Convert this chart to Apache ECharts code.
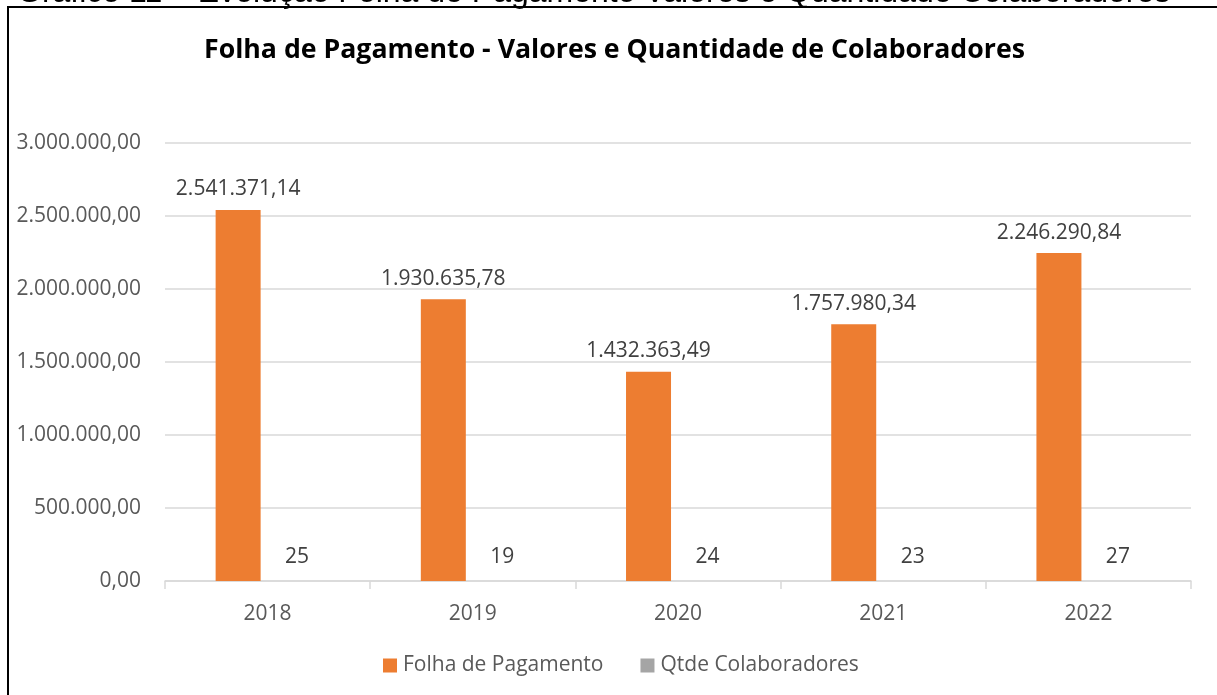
<!DOCTYPE html>
<html>
<head>
<meta charset="utf-8">
<script src="https://cdn.jsdelivr.net/npm/echarts@6/dist/echarts.min.js"></script>
<style>
html,body{margin:0;padding:0;background:#fff;}
#c{width:1217px;height:695px;}
</style>
</head>
<body>
<div id="c"></div>
<script>
var categories = ['2018', '2019', '2020', '2021', '2022'];
var folhaPagamento = [2541371.14, 1930635.78, 1432363.49, 1757980.34, 2246290.84];
var qtdeColaboradores = [25, 19, 24, 23, 27];
var seriesNames = ['Folha de Pagamento', 'Qtde Colaboradores'];
var chartTitle = 'Folha de Pagamento - Valores e Quantidade de Colaboradores';
var captionText = 'Gráfico 11 – Evolução Folha de Pagamento Valores e Quantidade Colaboradores';

function fmtBR(v) {
  var neg = v < 0;
  v = Math.abs(v);
  var parts = v.toFixed(2).split('.');
  var intPart = parts[0].replace(/\B(?=(\d{3})+(?!\d))/g, '.');
  return (neg ? '-' : '') + intPart + ',' + parts[1];
}

var FONT = '"Open Sans"';
var FS = 21;
var chart = echarts.init(document.getElementById('c'));
chart.setOption({
  animation: false,
  backgroundColor: '#ffffff',
  title: {
    text: chartTitle,
    left: 199,
    top: 32,
    textStyle: { fontFamily: FONT, fontSize: 26.7, fontWeight: 'bold', color: '#000000' }
  },
  graphic: [
    {
      type: 'rect',
      shape: { x: 8, y: 7, width: 1230, height: 720 },
      style: { fill: 'none', stroke: '#000000', lineWidth: 2 },
      silent: true
    },
    {
      type: 'text',
      left: 17,
      top: -23,
      style: { text: captionText, font: '32px "Liberation Sans"', fill: '#000000' },
      silent: true
    }
  ],
  legend: {
    data: seriesNames,
    left: 378,
    top: 650,
    icon: 'rect',
    itemWidth: 14,
    itemHeight: 14,
    itemGap: 37,
    textStyle: { fontFamily: FONT, fontSize: FS, color: '#595959', padding: [0, 0, 0, 1] }
  },
  grid: { left: 165, right: 26, top: 143, bottom: 114, containLabel: false },
  xAxis: {
    type: 'category',
    data: categories,
    axisLine: { lineStyle: { color: '#D9D9D9', width: 1.5 } },
    axisTick: { show: true, length: 8, lineStyle: { color: '#D9D9D9', width: 1.5 } },
    axisLabel: { fontFamily: FONT, fontSize: FS, color: '#595959', margin: 23 }
  },
  yAxis: {
    type: 'value',
    min: 0,
    max: 3000000,
    interval: 500000,
    axisLine: { show: false },
    axisTick: { show: false },
    splitLine: { lineStyle: { color: '#D9D9D9', width: 1.5 } },
    axisLabel: { fontFamily: FONT, fontSize: FS, color: '#595959', margin: 24, formatter: fmtBR }
  },
  series: [
    {
      name: seriesNames[0],
      type: 'bar',
      data: folhaPagamento,
      barWidth: 45,
      barGap: '31%',
      itemStyle: { color: '#ED7D31' },
      label: {
        show: true, position: 'top', distance: 10,
        fontFamily: FONT, fontSize: FS, color: '#404040',
        formatter: function (p) { return fmtBR(p.value); }
      }
    },
    {
      name: seriesNames[1],
      type: 'bar',
      data: qtdeColaboradores,
      barWidth: 45,
      itemStyle: { color: '#A5A5A5' },
      label: {
        show: true, position: 'top', distance: 13,
        fontFamily: FONT, fontSize: FS, color: '#404040'
      }
    }
  ]
});
</script>
</body>
</html>
